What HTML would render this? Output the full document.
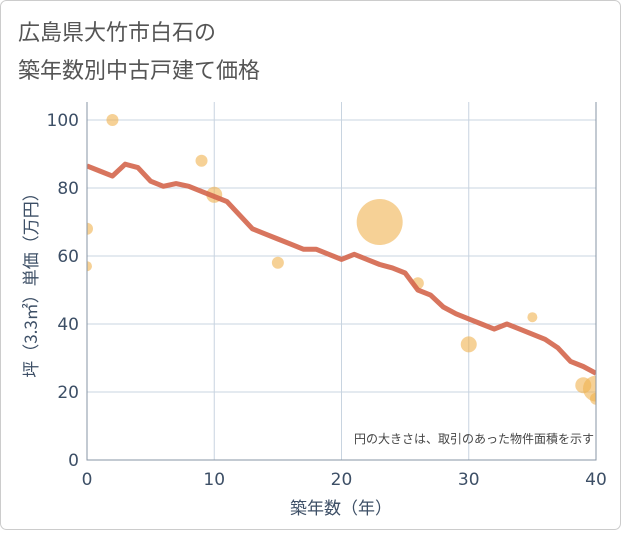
<!DOCTYPE html>
<html><head><meta charset="utf-8"><style>
body{margin:0;background:#fff}
#c{width:621px;height:530px;position:relative}
</style></head><body>
<div id="c">
<svg id="s" width="621" height="530" xmlns="http://www.w3.org/2000/svg" font-family="DejaVu Sans, Noto Sans CJK JP, sans-serif">
<defs><clipPath id="pc"><rect x="87" y="102" width="509" height="358"/></clipPath></defs>
<rect x="0.5" y="0.5" width="620" height="529" rx="6" fill="#fff" stroke="#ccc"/>
<text x="18" y="40" font-size="22" fill="#555" font-family="Noto Sans CJK JP, sans-serif">広島県大竹市白石の</text>
<text x="18" y="78" font-size="22" fill="#555" font-family="Noto Sans CJK JP, sans-serif">築年数別中古戸建て価格</text>
<g id="grid"></g><g id="bubbles" clip-path="url(#pc)"></g><g id="line" clip-path="url(#pc)"></g><g id="axes"></g>
<text x="594" y="443" font-size="12" fill="#444" text-anchor="end" font-family="Noto Sans CJK JP, sans-serif">円の大きさは、取引のあった物件面積を示す</text>
<text x="341" y="514" font-size="17" fill="#3d4f66" text-anchor="middle" font-family="Noto Sans CJK JP, sans-serif">築年数（年）</text>
<text transform="translate(37,281) rotate(-90)" font-size="17" fill="#3d4f66" text-anchor="middle" font-family="Noto Sans CJK JP, sans-serif">坪（3.3㎡）単価（万円）</text>
</svg></div>
<script>
const xTicks=[0,10,20,30,40];
const yTicks=[0,20,40,60,80,100];
const lineYears=[0,1,2,3,4,5,6,7,8,9,10,11,12,13,14,15,16,17,18,19,20,21,22,23,24,25,26,27,28,29,30,31,32,33,34,35,36,37,38,39,40];
const linePrices=[86.5,85,83.5,87,86,82,80.5,81.3,80.5,79,77.5,76,72,68,66.5,65,63.5,62,62,60.5,59,60.5,59,57.5,56.5,55,50,48.5,45,43,41.5,40,38.5,40,38.5,37,35.5,33,29,27.5,25.5];
const bubbleX=[0,0,2,9,10,15,23,26,30,35,39,40,40];
const bubbleY=[68,57,100,88,78,58,70,52,34,42,22,21,18];
const bubbleR=[6,5,6,6,8,6,23,6,8,5,8,13,6];
const L=87,R=596,T=102,B=460;
const xs=v=>L+(v-0)/40*(R-L);
const ys=v=>B-v/100*340;
const NS="http://www.w3.org/2000/svg";
function mk(p,t,a){const e=document.createElementNS(NS,t);for(const k in a)e.setAttribute(k,a[k]);p.appendChild(e);return e;}
const g=document.getElementById('grid'),ax=document.getElementById('axes'),bb=document.getElementById('bubbles'),ln=document.getElementById('line');
const bg=mk(g,'rect',{x:L,y:T,width:R-L,height:B-T,fill:'#fff'});


xTicks.forEach(v=>{
 const l=mk(g,'line',{x1:xs(v),x2:xs(v),y1:T,y2:B,stroke:'#c8d4e0','stroke-width':1});
 
 
 const t=mk(ax,'text',{x:xs(v),y:B+25,'font-size':17,fill:'#3d4f66','text-anchor':'middle'});t.textContent=v;
 
 
});
yTicks.forEach(v=>{
 const l=mk(g,'line',{x1:L,x2:R,y1:ys(v),y2:ys(v),stroke:'#c8d4e0','stroke-width':1});
 
 
 const t=mk(ax,'text',{x:L-8,y:ys(v)+6,'font-size':17,fill:'#3d4f66','text-anchor':'end'});t.textContent=v;
 
 
});
const fr=mk(ax,'path',{d:`M${L},${T}V${B}H${R}V${T}`,fill:'none',stroke:'#8795a5','stroke-width':1});


bubbleX.forEach((x,i)=>{
 const c=mk(bb,'circle',{cx:xs(x),cy:ys(bubbleY[i]),r:bubbleR[i],fill:'#f0b350','fill-opacity':0.6});
 
 
});
const p=mk(ln,'polyline',{points:lineYears.map((x,i)=>xs(x)+','+ys(linePrices[i])).join(' '),fill:'none',stroke:'#d4664d','stroke-width':5,'stroke-linejoin':'round','stroke-opacity':0.9});


</script>
</body></html>
